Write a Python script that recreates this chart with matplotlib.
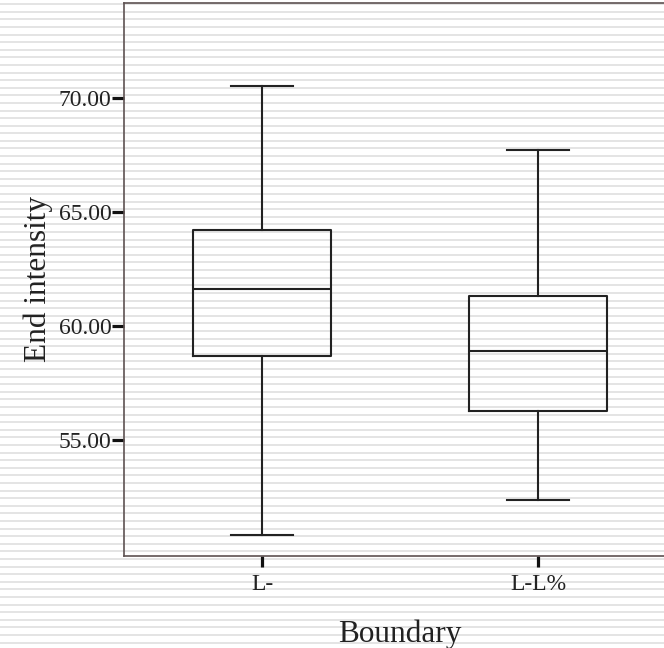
import matplotlib
matplotlib.use("Agg")
import matplotlib.pyplot as plt
from matplotlib.lines import Line2D
import numpy as np

# ---- data ----
categories = ["L-", "L-L%"]
whisker_low = [50.85, 52.38]
q1 = [58.69, 56.27]
median = [61.62, 58.91]
q3 = [64.21, 61.31]
whisker_high = [70.52, 67.73]
y_ticks = [55.0, 60.0, 65.0, 70.0]
y_tick_labels = ["55.00", "60.00", "65.00", "70.00"]

plt.rcParams['font.family'] = ['Liberation Serif', 'DejaVu Serif']

W, H = 664, 648
fig = plt.figure(figsize=(W / 100, H / 100), dpi=100)
fig.patch.set_facecolor('white')

# background stripes across the whole figure (decoration)
period = 7.6
y_top = 4.1
while y_top < H:
    yf = 1 - y_top / H
    fig.add_artist(Line2D([0, 1], [yf, yf], transform=fig.transFigure,
                          color='#e3e3e3', lw=1.35, zorder=0))
    y_top += period

ax_left, ax_right, ax_top, ax_bottom = 124, 676, 3, 556
ax = fig.add_axes([ax_left / W, (H - ax_bottom) / H,
                   (ax_right - ax_left) / W, (ax_bottom - ax_top) / H])
ax.set_facecolor('none')
ax.patch.set_alpha(0)

stats = []
for i, c in enumerate(categories):
    stats.append(dict(label=c, whislo=whisker_low[i], q1=q1[i], med=median[i],
                      q3=q3[i], whishi=whisker_high[i], fliers=[]))

lc = '#222222'
ax.bxp(stats, positions=[1, 2], widths=0.5, showfliers=False,
       boxprops=dict(color=lc, lw=1.5),
       medianprops=dict(color=lc, lw=1.5),
       whiskerprops=dict(color=lc, lw=1.5),
       capprops=dict(color=lc, lw=1.5),
       capwidths=0.225)

ax.set_xlim(0.5, 2.5)
ax.set_ylim(49.93, 74.15)
ax.set_yticks(y_ticks)
ax.set_yticklabels(y_tick_labels)
ax.set_xticks([1, 2])
ax.set_xticklabels(categories)

spc = '#5e5252'
for s in ['left', 'bottom', 'top']:
    ax.spines[s].set_color(spc)
    ax.spines[s].set_linewidth(1.2)
ax.spines['right'].set_visible(False)

ax.tick_params(axis='y', direction='out', length=8.5, width=2.3, color='#111111',
               labelsize=17, pad=0.5, labelcolor='#222222')
ax.tick_params(axis='x', direction='out', length=8, width=2.3, color='#111111',
               labelsize=17, pad=5, labelcolor='#222222')

ax.set_xlabel("Boundary", fontsize=22.5, color='#222222', labelpad=14)
ax.set_ylabel("End intensity", fontsize=22.5, color='#222222', labelpad=4)
ax.xaxis.set_label_coords((400 - ax_left) / (ax_right - ax_left), -0.115)

fig.savefig("out.png", dpi=100, facecolor='white')
